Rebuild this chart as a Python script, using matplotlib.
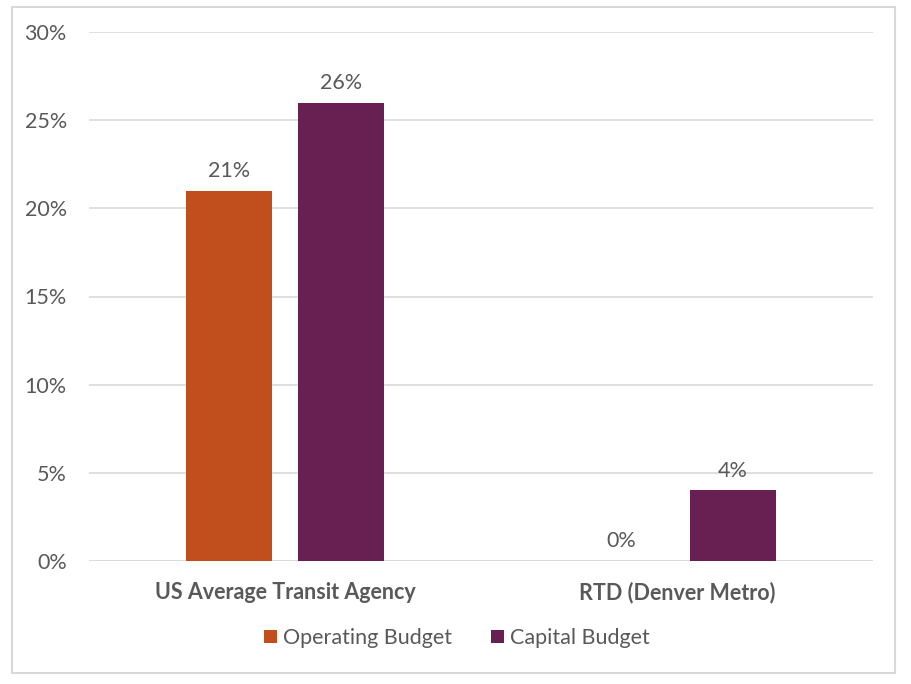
import matplotlib
matplotlib.use("Agg")
import matplotlib.pyplot as plt
from matplotlib.patches import Rectangle
import numpy as np

categories = ["US Average Transit Agency", "RTD (Denver Metro)"]
series_names = ["Operating Budget", "Capital Budget"]
operating = [0.21, 0.00]
capital = [0.26, 0.04]
yticks = [0, 0.05, 0.10, 0.15, 0.20, 0.25, 0.30]
ytick_labels = ["0%", "5%", "10%", "15%", "20%", "25%", "30%"]

colors = ["#C04F1D", "#682052"]
text_color = "#595959"
grid_color = "#D9D9D9"
plt.rcParams['font.family'] = ['Lato', 'DejaVu Sans']
fs = 15.5

fig = plt.figure(figsize=(9.12, 6.84), dpi=100)
# outer border
fig.patches.append(Rectangle((12/912, 1-673/684), (895-12)/912, (673-7)/684,
                             transform=fig.transFigure, fill=False,
                             edgecolor=grid_color, linewidth=1.5))
ax = fig.add_axes([89/912, 1-561/684, (873-89)/912, (561-32)/684])

x = np.arange(len(categories))
w = 0.22
off = 0.142
b1 = ax.bar(x - off, operating, w, color=colors[0], label=series_names[0], zorder=3)
b2 = ax.bar(x + off, capital, w, color=colors[1], label=series_names[1], zorder=3)

for bars, vals in ((b1, operating), (b2, capital)):
    for r, v in zip(bars, vals):
        ax.annotate(f"{v*100:.0f}%", (r.get_x() + r.get_width()/2, v),
                    xytext=(0, 7), textcoords="offset points",
                    ha="center", va="bottom", fontsize=fs, color=text_color)

ax.set_xlim(-0.5, 1.5)
ax.set_ylim(0, 0.30)
ax.set_yticks(yticks)
ax.set_yticklabels(ytick_labels, fontsize=fs, color=text_color)
ax.set_xticks(x)
ax.set_xticklabels(categories, fontsize=fs, fontweight="bold", color=text_color)
ax.tick_params(axis="both", length=0)
ax.tick_params(axis="y", pad=16)
ax.tick_params(axis="x", pad=15)
ax.yaxis.grid(True, color=grid_color, linewidth=1.2, zorder=0)
for s in ax.spines.values():
    s.set_visible(False)
ax.axhline(0, color=grid_color, linewidth=1.2, zorder=2)

leg = fig.legend(handles=[b1, b2], labels=series_names, loc="center",
                 bbox_to_anchor=(457/912, 1-638/684), ncol=2, frameon=False,
                 fontsize=fs, handlelength=0.6, handleheight=0.6,
                 handletextpad=0.3, columnspacing=1.8)
for t in leg.get_texts():
    t.set_color(text_color)

fig.savefig("out.png", dpi=100)
